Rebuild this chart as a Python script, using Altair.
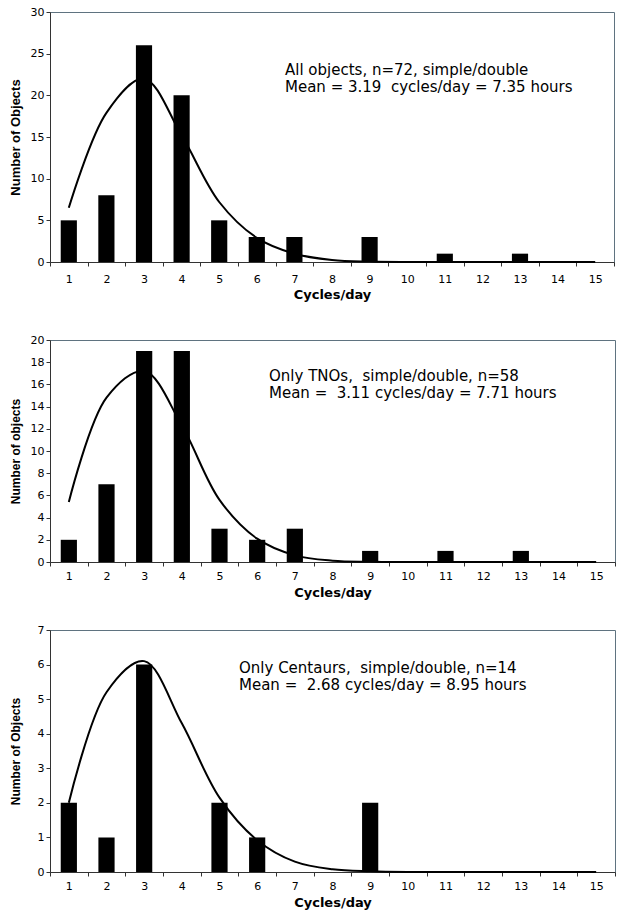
import altair as alt
import pandas as pd

# category axis: rotation frequency bins
cycles = list(range(1, 16))

# All objects
all_counts = [5, 8, 26, 20, 5, 3, 3, 0, 3, 0, 1, 0, 1, 0, 0]
all_fit = [6.5, 17.9, 22.0, 15.2, 7.2, 2.9, 1.0, 0.25, 0.05, 0, 0, 0, 0, 0, 0]

# Only TNOs
tno_counts = [2, 7, 19, 19, 3, 2, 3, 0, 1, 0, 1, 0, 1, 0, 0]
tno_fit = [5.4, 14.8, 17.2, 12.3, 5.6, 2.1, 0.6, 0.12, 0.02, 0, 0, 0, 0, 0, 0]

# Only Centaurs
cen_counts = [2, 1, 6, 0, 2, 1, 0, 0, 2, 0, 0, 0, 0, 0, 0]
cen_fit = [2.0, 5.2, 6.1, 4.3, 2.15, 0.92, 0.3, 0.08, 0.02, 0, 0, 0, 0, 0, 0]

notes = [
    "All objects, n=72, simple/double\nMean = 3.19\u00a0 cycles/day = 7.35 hours",
    "Only TNOs,\u00a0 simple/double, n=58\nMean =\u00a0 3.11 cycles/day = 7.71 hours",
    "Only Centaurs,\u00a0 simple/double, n=14\nMean =\u00a0 2.68 cycles/day = 8.95 hours",
]
y_titles = ["Number of Objects", "Number of objects", "Number of Objects"]

FONT = "DejaVu Sans"
TITLE_FONT = "Liberation Sans"


def panel(counts, fit, ymax, ystep, ytitle, note, note_x, note_y,
          w, h, ytitle_size=13, label_pad=7, title_pad=4, line_h=17):
    df = pd.DataFrame({"c": cycles, "n": counts, "fit": fit})
    x = alt.X(
        "c:O", title="Cycles/day",
        scale=alt.Scale(paddingInner=0, paddingOuter=0),
        axis=alt.Axis(labelAngle=0, tickBand="extent", tickSize=4,
                      labelPadding=label_pad, titlePadding=title_pad,
                      titleFont=FONT, titleFontSize=13),
    )
    y_axis = alt.Axis(values=list(range(0, ymax + 1, ystep)), tickSize=4,
                      labelPadding=2, labelOverlap=False,
                      minExtent=22, maxExtent=22,
                      titleFont=TITLE_FONT, titleFontSize=ytitle_size,
                      titlePadding=6)
    y_scale = alt.Scale(domain=[0, ymax], nice=False)
    bars = alt.Chart(df).mark_bar(
        color="black", width=alt.RelativeBandSize(0.43)
    ).encode(x=x, y=alt.Y("n:Q", title=ytitle, scale=y_scale, axis=y_axis))
    curve = alt.Chart(df).mark_line(
        color="black", strokeWidth=2, interpolate="catmull-rom"
    ).encode(x="c:O", y=alt.Y("fit:Q", title=ytitle, scale=y_scale, axis=y_axis))
    label = alt.Chart(pd.DataFrame({"t": [note]})).mark_text(
        align="left", baseline="alphabetic", font=FONT, fontSize=15,
        lineBreak="\n", lineHeight=line_h, color="black",
    ).encode(x=alt.value(note_x), y=alt.value(note_y), text="t:N")
    return alt.layer(bars, curve, label).properties(width=w, height=h)


p1 = panel(all_counts, all_fit, 30, 5, y_titles[0], notes[0], 235, 63, 564, 250)
p2 = panel(tno_counts, tno_fit, 20, 2, y_titles[1], notes[1], 219, 41, 565, 222,
           ytitle_size=12, label_pad=4, title_pad=5, line_h=16.5)
p3 = panel(cen_counts, cen_fit, 7, 1, y_titles[2], notes[2], 189, 43, 565, 242,
           ytitle_size=12, label_pad=4, title_pad=5, line_h=16.5)

top = alt.vconcat(p1, p2, spacing=31)
chart = alt.vconcat(top, p3, spacing=23).properties(
    padding={"left": 0, "top": -3, "right": 0, "bottom": 0}
).configure_view(
    stroke="#5f7380", strokeWidth=1
).configure_axis(
    grid=False, domainColor="#333", tickColor="#333", labelColor="black",
    titleColor="black", labelFont=FONT, labelFontSize=11,
    titleFontWeight="bold",
)

chart.save("out.html", embed_options={"renderer": "svg", "actions": False})
